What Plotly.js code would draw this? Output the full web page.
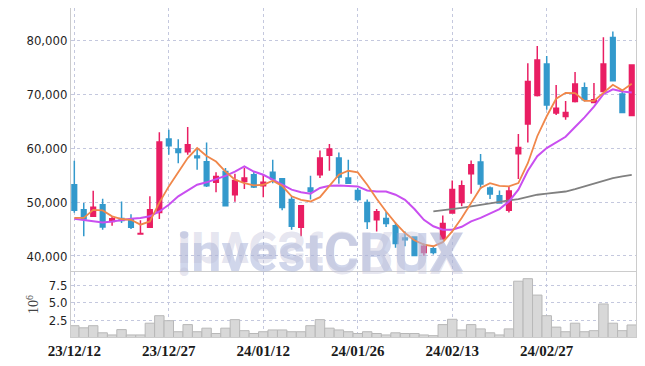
<!DOCTYPE html>
<html>
<head>
<meta charset="utf-8">
<script src="https://cdn.plot.ly/plotly-3.0.1.min.js"></script>
<style>
  html, body { margin:0; padding:0; background:#fff; }
  #wrap { position:relative; width:645px; height:366px; overflow:hidden; }
  #chart { position:absolute; left:0; top:0; width:645px; height:366px; }
  .wm { position:absolute; white-space:nowrap; font-family:Roboto, 'Liberation Sans', sans-serif; font-weight:700;
        font-size:54px; line-height:54px; height:54px; pointer-events:none; }
  #wm1 { left:177px; top:226px; color:rgba(150,165,210,0.45); }
  #wm2 { left:177px; top:263px; color:rgba(190,190,215,0.40); transform:scaleY(-1.08); transform-origin:50% 8.5px; }
</style>
</head>
<body>
<div id="wrap">
  <div id="chart"></div>
  <div class="wm" id="wm1">investCRUX</div>
  <div class="wm" id="wm2">investCRUX</div>
</div>
<script>
var dates = ['23/12/12','23/12/13','23/12/14','23/12/15','23/12/18','23/12/19','23/12/20','23/12/21','23/12/22','23/12/26',
  '23/12/27','23/12/28','24/01/02','24/01/03','24/01/04','24/01/05','24/01/08','24/01/09','24/01/10','24/01/11',
  '24/01/12','24/01/15','24/01/16','24/01/17','24/01/18','24/01/19','24/01/22','24/01/23','24/01/24','24/01/25',
  '24/01/26','24/01/29','24/01/30','24/01/31','24/02/01','24/02/02','24/02/05','24/02/06','24/02/07','24/02/08',
  '24/02/13','24/02/14','24/02/15','24/02/16','24/02/19','24/02/20','24/02/21','24/02/22','24/02/23','24/02/26',
  '24/02/27','24/02/28','24/02/29','24/03/04','24/03/05','24/03/06','24/03/07','24/03/08','24/03/11','24/03/12'];

var openP = [53200,48550,47350,49500,46400,46950,46700,44050,45300,48050,
  61700,59850,59300,58550,57450,53650,55650,51350,53800,55050,
  53000,55500,54300,50450,45300,52600,55050,58650,58150,54450,
  52150,49900,46700,46950,45600,43350,43500,40650,41350,43150,
  47950,49900,55250,57400,52600,51150,48450,58950,64450,69750,
  75600,66500,65850,68650,71200,68450,70500,80500,70050,66050];
var highP = [57650,49800,52100,50600,47200,50100,47750,46600,51050,62950,
  63400,61650,63900,60000,61050,55500,56300,55250,56300,55650,
  55050,57850,54400,51050,49350,54850,59550,60750,59200,57850,
  52600,50450,48700,48150,46200,44550,43600,42300,41800,47500,
  54000,54000,57700,58900,52900,52150,52900,62600,75750,78950,
  77100,71700,68750,74100,72150,72050,80550,81600,70800,75450];
var lowP = [48000,43650,47200,44850,45600,46100,45000,44000,45200,46850,
  58750,57200,58750,56000,52800,51800,49250,50050,52400,52600,
  50900,53500,48450,44850,43650,50450,54450,55800,53400,53400,
  50100,45000,44550,45350,41500,41800,40050,40050,40250,43000,
  47850,49200,51550,52400,50550,49700,48050,54250,61050,69550,
  67100,66150,65250,68450,68650,68450,70400,72400,66500,66000];
var closeP = [48450,46850,49050,45350,46900,46550,45300,44150,48550,61150,
  60450,59200,60600,58200,53000,54750,49300,54000,54450,52800,
  53650,54250,49000,45500,49300,51950,58150,59850,54650,53500,
  50450,46400,48200,46000,42300,43000,40100,41800,40650,46000,
  52300,53000,56900,53350,51500,49800,52050,60100,72350,76350,
  68000,67400,66600,71900,68950,68950,75600,72500,66600,75400];

var ma5 = [47050,47050,48550,48450,47350,46850,46700,45800,46400,49900,
  52900,55650,58150,60000,58550,57500,55650,54150,53500,53100,
  53200,53950,53000,51050,50400,50100,50900,53000,55050,55800,
  55500,53200,50600,48250,46100,44250,42900,42100,41800,42550,
  44550,47050,49800,52600,53500,53000,52900,53500,57200,62200,
  65900,69150,70250,70200,68750,68750,70250,71750,70700,71950];
var ma10 = [46900,46700,46400,46200,46400,46700,46900,47050,47350,48250,
  49500,51050,52150,53200,53650,54250,54850,55650,56600,55650,
  55050,54150,53200,52300,51800,51550,52600,53000,53050,53000,
  52900,52150,51950,51950,51350,50400,48700,46700,45500,44850,
  44850,45400,46400,47050,47950,48700,50100,52300,55800,58500,
  60000,61000,62100,63900,65700,67700,70000,70900,70500,70300];
var maLong = [null,null,null,null,null,null,null,null,null,null,
  null,null,null,null,null,null,null,null,null,null,
  null,null,null,null,null,null,null,null,null,null,
  null,null,null,null,null,null,null,null,48250,48450,
  48700,48900,49200,49500,49800,50050,50300,50550,50900,51350,
  51550,51800,51950,52400,52900,53400,54000,54450,54750,55050];

var volume = [1.8,1.5,1.8,0.8,0.5,1.25,0.5,0.5,2.15,3.2,
  2.5,0.95,1.95,0.95,1.45,0.7,1.45,2.65,1.1,0.7,
  0.95,1.2,1.2,0.95,0.95,1.8,2.65,1.45,1.2,0.95,
  0.7,0.95,0.7,0.5,0.8,0.7,0.7,0.5,0.4,1.95,
  2.7,1.2,1.95,1.35,0.8,0.5,1.35,8.05,8.4,6.1,
  3.2,1.6,0.95,2.15,0.95,1.1,4.85,2.15,1.1,1.9];

var xTicks = ['23/12/12','23/12/27','24/01/12','24/01/26','24/02/13','24/02/27'];
var priceTicks = [40000,50000,60000,70000,80000];
var volTicks = [2.5,5,7.5];

var gridC = '#c4c8de';
var traces = [
  {type:'candlestick', x:dates, open:openP, high:highP, low:lowP, close:closeP,
   xaxis:'x', yaxis:'y', whiskerwidth:0, hoverinfo:'skip',
   increasing:{line:{color:'#e91e63', width:1.5}, fillcolor:'#e91e63'},
   decreasing:{line:{color:'#3399cc', width:1.5}, fillcolor:'#3399cc'}},
  {type:'scatter', mode:'lines', x:dates, y:maLong, xaxis:'x', yaxis:'y',
   line:{color:'#808080', width:1.8}, hoverinfo:'skip'},
  {type:'scatter', mode:'lines', x:dates, y:ma10, xaxis:'x', yaxis:'y',
   line:{color:'#c94ff0', width:2}, hoverinfo:'skip'},
  {type:'scatter', mode:'lines', x:dates, y:ma5, xaxis:'x', yaxis:'y',
   line:{color:'#f0874a', width:1.8}, hoverinfo:'skip'},
  {type:'bar', x:dates, y:volume, xaxis:'x', yaxis:'y2',
   marker:{color:'#d8d8d8', line:{color:'#b8b8b8', width:1}}, hoverinfo:'skip'}
];

var layout = {
  width:645, height:366,
  margin:{l:71, r:9, t:8, b:28.5, pad:0},
  paper_bgcolor:'#ffffff', plot_bgcolor:'#ffffff',
  showlegend:false, bargap:0,
  xaxis:{type:'category', range:[-0.35,59.45], anchor:'y2',
    tickvals:xTicks, ticktext:xTicks, ticks:'',
    showgrid:true, gridcolor:gridC, griddash:'dot', gridwidth:1,
    showline:true, linecolor:'#cccccc', linewidth:1, mirror:true,
    rangeslider:{visible:false},
    tickfont:{family:'Liberation Sans Narrow', size:15, color:'#1a1a1a', weight:'bold'}},
  yaxis:{domain:[0.2,1], range:[37170,85980], tickvals:priceTicks, tickformat:',d',
    showgrid:true, gridcolor:gridC, griddash:'dot', zeroline:false, ticks:'',
    showline:true, linecolor:'#cccccc', linewidth:1, mirror:true,
    tickfont:{family:'DejaVu Sans Condensed', size:13, color:'#1f1f1f'}},
  yaxis2:{domain:[0,0.198], range:[0.21,9.36], tickvals:volTicks, tickformat:'.1f',
    showgrid:true, gridcolor:gridC, griddash:'dot', zeroline:false, ticks:'',
    showline:true, linecolor:'#cccccc', linewidth:1, mirror:true,
    tickfont:{family:'DejaVu Sans Condensed', size:13, color:'#1f1f1f'},
    title:{text:'10<sup>6</sup>', standoff:6, font:{family:'Liberation Serif', size:14, color:'#444444'}}}
};

Plotly.newPlot('chart', traces, layout, {staticPlot:true, displayModeBar:false});
</script>
</body>
</html>
